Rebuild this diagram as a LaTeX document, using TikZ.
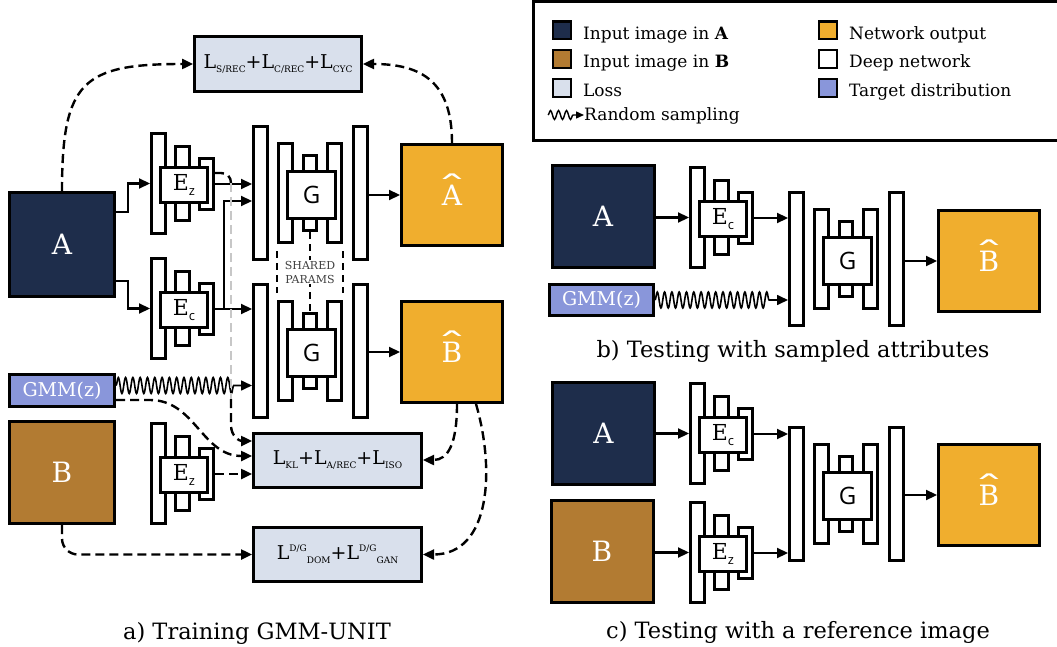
\documentclass[tikz,border=0pt]{standalone}
\usepackage{fontspec}
\usepackage{graphicx}
\setmainfont{DejaVu Serif}
\setsansfont{Open Sans}
\usetikzlibrary{positioning,arrows.meta,decorations.pathmorphing}

\definecolor{navyA}{HTML}{1E2D4B}
\definecolor{brownB}{HTML}{B27B32}
\definecolor{outorange}{HTML}{F0AE2E}
\definecolor{lossgray}{HTML}{D9E0EC}
\definecolor{gmmblue}{HTML}{8996DA}

\newcommand{\fsz}[1]{\fontsize{#1}{#1}\selectfont}
\newcommand{\losssub}[1]{\raisebox{-4pt}{\fsz{9}#1}}
\newcommand{\losssup}[1]{\raisebox{8pt}{\fsz{9}#1}}
\newcommand{\encsub}[1]{\raisebox{-5pt}{\sffamily\fsz{13}#1}}
\newcommand{\hatted}[1]{\ooalign{#1\cr\hidewidth\raisebox{7pt}{\scalebox{2.2}[1.1]{\char"02C6}}\hidewidth\cr}}

\tikzset{
  imgbox/.style={draw, line width=3pt, inner sep=0pt, text=white, font=\fsz{28}},
  lossbox/.style={draw, fill=lossgray, line width=3pt, inner sep=0pt, font=\fsz{19}},
  bar/.style={draw, fill=white, line width=2.8pt, inner sep=0pt, anchor=north west},
  arr/.style={line width=2.2pt, -{Triangle[length=11pt,width=10pt]}},
  dashline/.style={line width=2.4pt, dash pattern=on 9pt off 5pt},
  dasharr/.style={dashline, -{Triangle[length=11pt,width=10pt]}},
  snakearr/.style={line width=1.6pt, -{Triangle[length=11pt,width=10pt]}, decorate,
    decoration={snake, amplitude=8pt, segment length=7.3pt, post length=18pt}},
  shared/.style={line width=2pt, dash pattern=on 7pt off 5pt},
  legsq/.style={draw, line width=2.4pt, minimum size=17.6pt, inner sep=0pt},
  legtext/.style={font=\fsz{17}, inner sep=0pt, anchor=base west},
  caption/.style={font=\fsz{22.5}, inner sep=0pt, anchor=base},
}

% encoder: name, x, y (top left of the outer bar), label
\newcommand{\drawencoder}[4]{%
  \begin{scope}[shift={(#2,#3)}]
    \node[bar, minimum width=14.2pt, minimum height=100.2pt] (#1-l) at (0,0) {};
    \node[bar, minimum width=14.2pt, minimum height=74.2pt] (#1-m) at (24,13) {};
    \node[bar, minimum width=14.2pt, minimum height=51.2pt] (#1-r) at (48,25) {};
    \node[bar, minimum width=47.2pt, minimum height=35.2pt, font=\fsz{22}] (#1) at (9,34) {#4};
  \end{scope}}

% generator: name, x, y (top left of the first bar)
\newcommand{\drawdecoder}[3]{%
  \begin{scope}[shift={(#2,#3)}]
    \node[bar, minimum width=14.2pt, minimum height=133.2pt] (#1-l) at (0,0) {};
    \node[bar, minimum width=14.2pt, minimum height=99.2pt] (#1-b2) at (25,17) {};
    \node[bar, minimum width=13.2pt, minimum height=75.2pt] (#1-m) at (50,29) {};
    \node[bar, minimum width=14.2pt, minimum height=99.2pt] (#1-b4) at (74,17) {};
    \node[bar, minimum width=14.2pt, minimum height=133.2pt] (#1-r) at (100,0) {};
    \node[bar, minimum width=48.2pt, minimum height=47.2pt, font=\sffamily\fsz{24}] (#1) at (34,45) {G};
  \end{scope}}

\begin{document}
\begin{tikzpicture}[x=1pt, y=-1pt]
    \useasboundingbox (0,0) rectangle (1057,647);

    % Legend
    \draw[line width=3pt] (1062,1.5) -| (533.5,140.5) -- (1062,140.5);
    \foreach \sqx/\sqy/\sqcol/\lbl [count=\i] in {562/30.5/navyA/{Input image in \textbf{A}},
        562/59/brownB/{Input image in \textbf{B}}, 562/88/lossgray/{Loss},
        828/30.5/outorange/{Network output}, 828/59/white/{Deep network},
        828/88/gmmblue/{Target distribution}} {
        \node[legsq, fill=\sqcol] (leg\i) at (\sqx,\sqy) {};
        \node[legtext] (legtxt\i) at (\sqx+21,\sqy+9) {\lbl};
    }
    \coordinate (legsnake) at (548,115);
    \node[legtext] (legR) at (584,121) {Random sampling};
    \draw[line width=1.4pt, -{Triangle[length=8pt,width=7pt]}, decorate,
        decoration={snake, amplitude=4.5pt, segment length=8pt, post length=10pt}]
        (legsnake) -- (legsnake -| legR.west);

    % a) Training
    \node[imgbox, fill=navyA, minimum width=105pt, minimum height=104pt] (trA) at (62,244.5) {A};
    \node[imgbox, fill=gmmblue, minimum width=105pt, minimum height=32pt, font=\fsz{19}] (trGmm) at (62,390.5) {GMM(z)};
    \node[imgbox, fill=brownB, minimum width=105pt, minimum height=102pt] (trB) at (62,472.5) {B};
    \node[imgbox, fill=outorange, minimum size=101pt] (trAhat) at (452,195) {\hatted{A}};
    \node[imgbox, fill=outorange, minimum size=101pt] (trBhat) at (452,352) {\hatted{B}};
    \node[lossbox, minimum width=167pt, minimum height=55pt] (lossCyc) at (278,64)
        {L\losssub{S/REC}+L\losssub{C/REC}+L\losssub{CYC}};
    \node[lossbox, minimum width=168pt, minimum height=54pt] (lossKL) at (337.5,460)
        {L\losssub{KL}+L\losssub{A/REC}+L\losssub{ISO}};
    \node[lossbox, minimum width=168pt, minimum height=54pt] (lossGan) at (337.5,554.5)
        {L\losssup{D/G}\losssub{DOM}+L\losssup{D/G}\losssub{GAN}};

    \drawencoder{trEzA}{150}{132}{E\encsub{z}}
    \drawencoder{trEcA}{150}{257}{E\encsub{c}}
    \drawencoder{trEzB}{150}{422}{E\encsub{z}}
    \drawdecoder{trDecA}{252}{125}
    \drawdecoder{trDecB}{252}{283}

    % shared parameters
    \draw[shared, shorten <=7pt, shorten >=7pt] (trDecA-b2.south west) -- (trDecB-b2.north west);
    \draw[shared, shorten <=7pt, shorten >=7pt] (trDecA-b4.south east) -- (trDecB-b4.north east);
    \draw[shared] (trDecA-m.south) -- node[fill=white, inner sep=1pt, align=center,
        font=\fontsize{11}{14}\selectfont, text=black!75] {SHARED\\PARAMS} (trDecB-m.north);

    % A into both encoders
    \draw[arr] ([yshift=32.5pt]trA.east) -- ++(12,0) |- (trEzA-l.west);
    \draw[arr] ([yshift=-36.5pt]trA.east) -- ++(12,0) |- (trEcA-l.west);
    % codes into the generators
    \draw[arr] (trEzA-r.east) -- (trEzA-r.east -| trDecA-l.west);
    \draw[arr] (trEcA-r.east) -- (trEcA-r.east -| trDecB-l.west);
    \draw[arr] ([xshift=9pt]trEcA-r.east) |- ([yshift=-8pt]trDecA-l.west);
    \draw[snakearr] ([yshift=5pt]trGmm.east) -- ([yshift=5pt]trGmm.east -| trDecB-l.west);
    % generators to outputs
    \draw[arr] (trDecA-r.east |- trAhat.west) -- (trAhat.west);
    \draw[arr] (trDecB-r.east |- trBhat.west) -- (trBhat.west);

    % losses
    \draw[dasharr] (trA.north) .. controls +(0,-110) and +(-110,0) .. (lossCyc.west);
    \draw[dasharr] (trAhat.north) .. controls +(0,-60) and +(60,0) .. (lossCyc.east);
    \draw[dashline] ([yshift=11pt]trEzA-r.east) -- ++(6,0)
        .. controls +(6,0) and +(0,-6) .. ++(10,10) coordinate (zdrop);
    \draw[dashline, draw=black!22] (zdrop) -- ++(0,216) coordinate (zback);
    \draw[dasharr] (zback) -- ++(0,26) .. controls +(0,12) and +(-12,0) .. ([yshift=19pt]lossKL.west);
    \draw[dasharr] ([yshift=-9.5pt]trGmm.east) -- ++(34,0)
        .. controls +(45,0) and +(-50,0) .. ([yshift=4pt]lossKL.west);
    \draw[dasharr] (trEzB-r.east) -- (trEzB-r.east -| lossKL.west);
    \draw[dasharr] ([xshift=5pt]trBhat.south) .. controls +(0,40) and +(25,0) .. (lossKL.east);
    \draw[dasharr] ([xshift=24pt]trBhat.south) .. controls +(19,65) and +(68,0) .. (lossGan.east);
    \draw[dasharr, rounded corners=16pt] (trB.south) |- (lossGan.west);

    \node[caption] (capA) at (257,639) {a) Training GMM-UNIT};

    % b) Testing with sampled attributes
    \node[imgbox, fill=navyA, minimum size=102pt] (sbA) at (603,216.5) {A};
    \node[imgbox, fill=gmmblue, minimum width=104pt, minimum height=31pt, font=\fsz{19}] (sbGmm) at (601.5,300) {GMM(z)};
    \node[imgbox, fill=outorange, minimum size=101pt] (sbBhat) at (989,261) {\hatted{B}};
    \drawencoder{sbEc}{689}{166}{E\encsub{c}}
    \drawdecoder{sbDec}{788}{191}
    \draw[arr] (sbEc-l.west -| sbA.east) -- (sbEc-l.west);
    \draw[arr] (sbEc-r.east) -- (sbEc-r.east -| sbDec-l.west);
    \draw[snakearr] (sbGmm.east) -- (sbGmm.east -| sbDec-l.west);
    \draw[arr] (sbDec-r.east |- sbBhat.west) -- (sbBhat.west);
    \node[caption] (capB) at (793,357) {b) Testing with sampled attributes};

    % c) Testing with a reference image
    \node[imgbox, fill=navyA, minimum size=102pt] (rcA) at (603.5,433.5) {A};
    \node[imgbox, fill=brownB, minimum size=102pt] (rcB) at (602,551.5) {B};
    \node[imgbox, fill=outorange, minimum size=101pt] (rcBhat) at (989,495) {\hatted{B}};
    \drawencoder{rcEc}{689}{382}{E\encsub{c}}
    \drawencoder{rcEz}{689}{501}{E\encsub{z}}
    \drawdecoder{rcDec}{788}{426}
    \draw[arr] (rcEc-l.west -| rcA.east) -- (rcEc-l.west);
    \draw[arr] (rcEz-l.west -| rcB.east) -- (rcEz-l.west);
    \draw[arr] (rcEc-r.east) -- (rcEc-r.east -| rcDec-l.west);
    \draw[arr] (rcEz-r.east) -- (rcEz-r.east -| rcDec-l.west);
    \draw[arr] (rcDec-r.east |- rcBhat.west) -- (rcBhat.west);
    \node[caption] (capC) at (798,638) {c) Testing with a reference image};
\end{tikzpicture}
\end{document}
